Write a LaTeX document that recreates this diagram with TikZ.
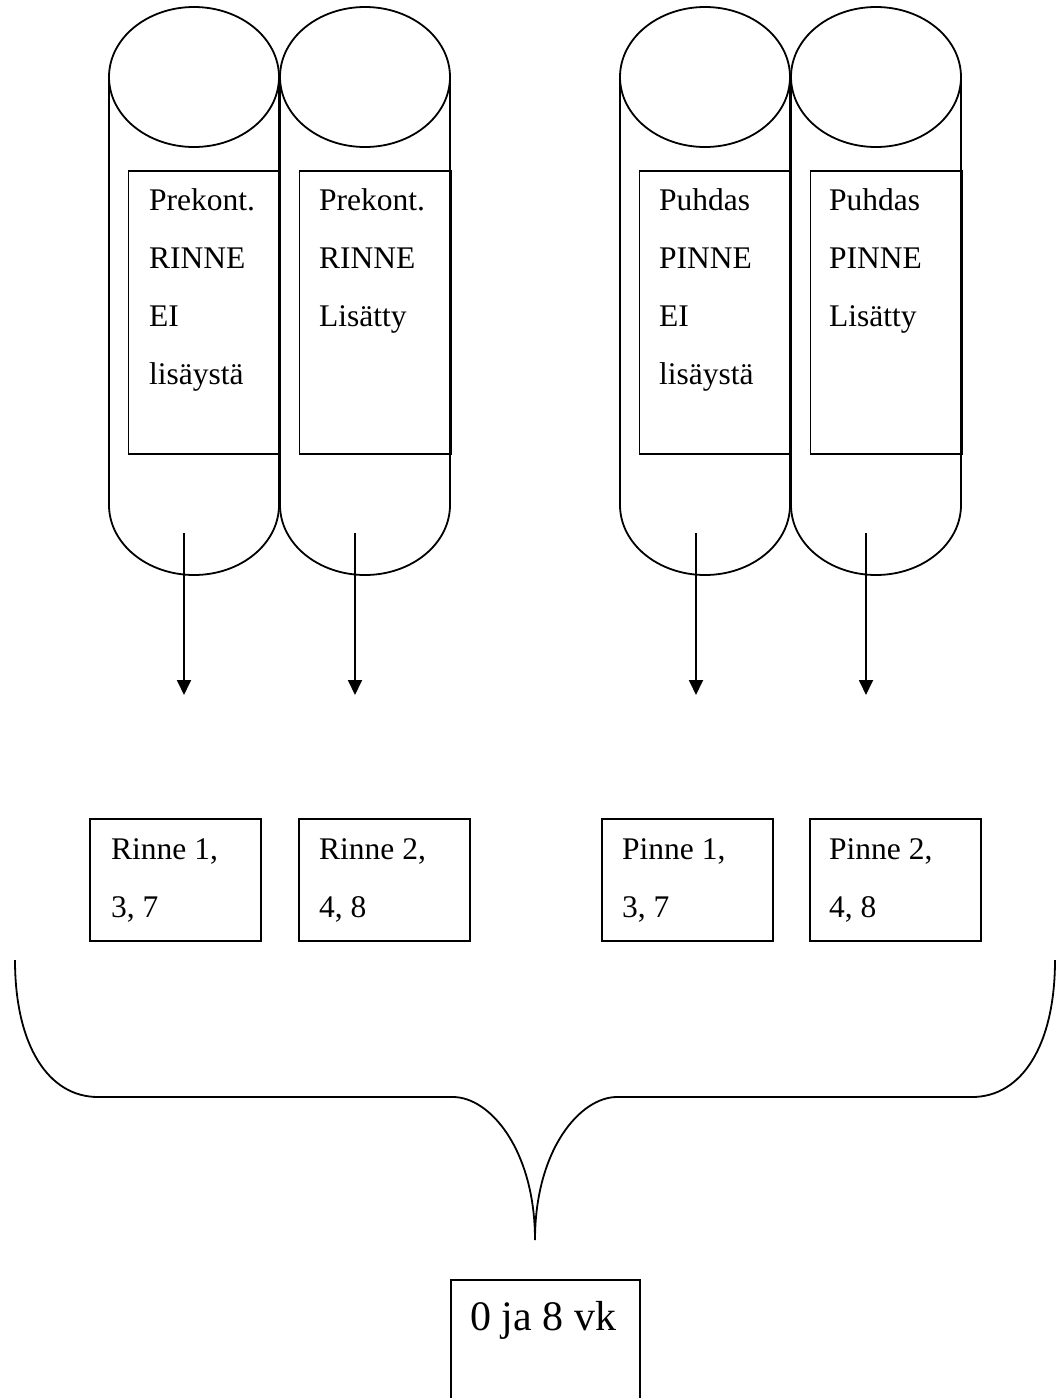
\documentclass[tikz,border=0pt]{standalone}
\usepackage{fontspec}
\setmainfont{Liberation Serif}
\usetikzlibrary{arrows.meta, positioning, calc}

\tikzset{
    thin line/.style={line width=1.8pt},
    labelbox/.style={draw, line width=1.8pt, inner sep=0pt, anchor=north west,
        minimum width=152pt, minimum height=283pt},
    samplebox/.style={draw, line width=1.8pt, inner sep=0pt, anchor=north west,
        minimum width=171pt, minimum height=122pt},
    % base of a multi-line node sits on its last line
    boxtext/.style={anchor=base west, inner sep=0pt, align=left,
        font=\fontsize{31.5}{58}\selectfont},
    flow/.style={line width=1.8pt, -{Triangle[length=15pt, width=14pt]}},
}

\begin{document}
\begin{tikzpicture}[x=1pt, y=-1pt]
    \useasboundingbox (0,0) rectangle (1057,1398);

    % four tanks, side by side in two pairs
    \foreach \cx in {194,365,705,876} {
        \draw[thin line] (\cx,77) ellipse (85 and 70);
        \draw[thin line] (\cx-85,77) -- (\cx-85,505) arc (180:0:85 and 70) -- (\cx+85,77);
    }

    % labels on the tanks
    \node[labelbox] (tank1) at (127.5,170) {};
    \node[labelbox] (tank2) at (298.5,170) {};
    \node[labelbox] (tank3) at (638.5,170) {};
    \node[labelbox] (tank4) at (809.5,170) {};
    \node[boxtext] (tank1text) at (149,384) {Prekont.\\RINNE\\EI\\lisäystä};
    \node[boxtext] (tank2text) at (319,326) {Prekont.\\RINNE\\Lisätty};
    \node[boxtext] (tank3text) at (659,384) {Puhdas\\PINNE\\EI\\lisäystä};
    \node[boxtext] (tank4text) at (829,326) {Puhdas\\PINNE\\Lisätty};

    % outflow arrows
    \foreach \ax [count=\i] in {184,355,696,866} {
        \coordinate (out\i) at (\ax,533);
        \coordinate (end\i) at (\ax,695);
        \draw[flow] (out\i) -- (end\i);
    }

    % sample groups
    \node[samplebox] (rinne1) at (89,818) {};
    \node[samplebox] (rinne2) at (298,818) {};
    \node[samplebox] (pinne1) at (601,818) {};
    \node[samplebox] (pinne2) at (809,818) {};
    \node[boxtext] (rinne1text) at (111,917) {Rinne 1,\\3, 7};
    \node[boxtext] (rinne2text) at (319,917) {Rinne 2,\\4, 8};
    \node[boxtext] (pinne1text) at (622,917) {Pinne 1,\\3, 7};
    \node[boxtext] (pinne2text) at (829,917) {Pinne 2,\\4, 8};

    % brace gathering all groups
    \coordinate (bracetip) at (535,1240);
    \draw[thin line] (15,960) .. controls (15,1045) and (48,1097) .. (98,1097)
        -- (453,1097) .. controls (490,1097) and (535,1150) .. (bracetip)
        .. controls (535,1150) and (580,1097) .. (617,1097)
        -- (972,1097) .. controls (1022,1097) and (1055,1045) .. (1055,960);

    % sampling times
    \node[draw, line width=1.8pt, inner sep=0pt, anchor=north west,
        minimum width=189pt, minimum height=160pt] (weeks) at (450,1279) {};
    \node[anchor=base west, inner sep=0pt, font=\fontsize{42}{50}\selectfont]
        (weekstext) at (470,1330) {0 ja 8 vk};
\end{tikzpicture}
\end{document}
